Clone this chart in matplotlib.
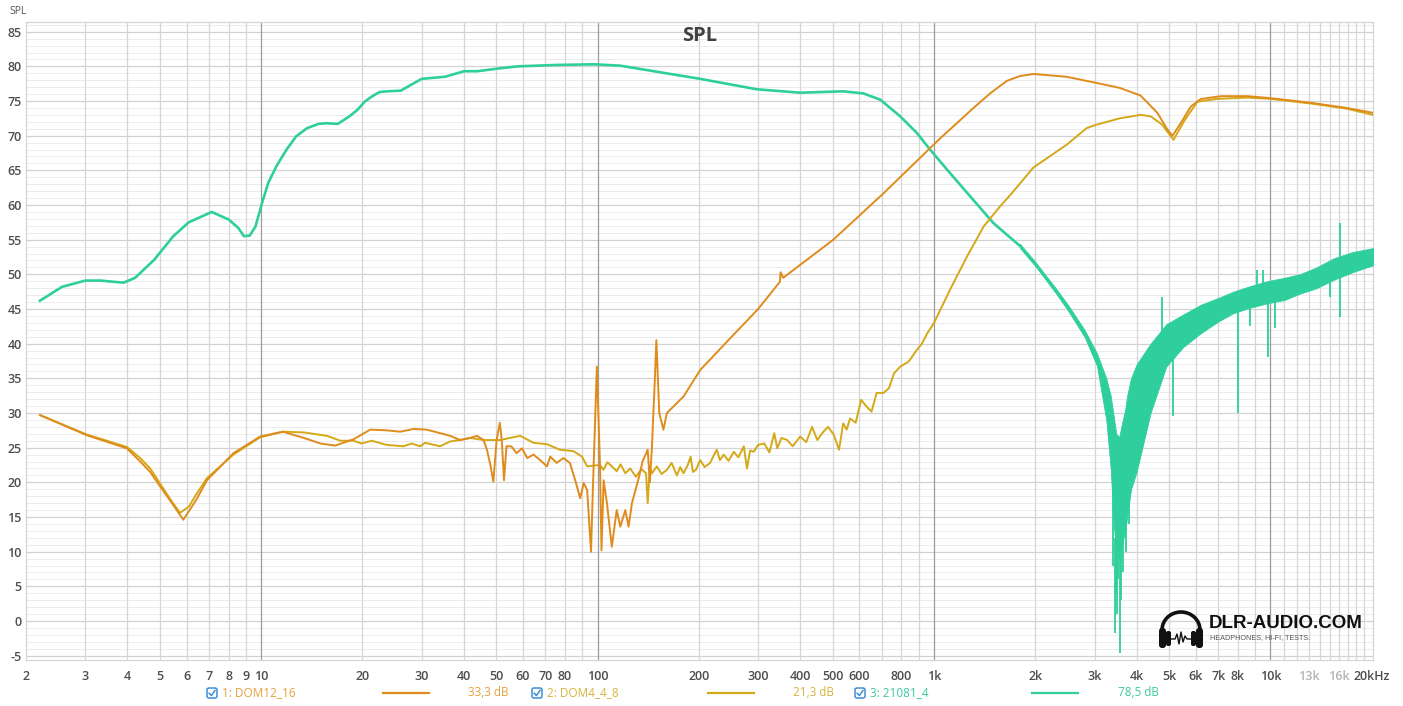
import numpy as np
import matplotlib
matplotlib.use('Agg')
import matplotlib.pyplot as plt
from matplotlib.patches import FancyBboxPatch, Arc

# ---------------- data ----------------
dom12_f = [2.2, 3.03, 3.99, 4.37, 4.68, 5.01, 5.43, 5.87, 6.4, 6.9, 8.27, 9.93, 11.6,
           13.4, 15.0, 16.6, 18.8, 21.1, 23.6, 25.9, 28.4, 31.0, 34.0, 36.5, 39.0,
           41.8, 43.8, 45.8, 46.9, 48.0, 49.0, 50.1, 51.2, 51.9, 52.7, 53.6, 55.4,
           57.4, 59.6, 61.8, 64.5, 67.5, 70.7, 72.3, 75.6, 79.1, 82.7, 85.8, 88.8,
           90.9, 93.1, 95.6, 96.8, 99.5, 101.6, 102.7, 104.2, 106.6, 110.2, 114.0,
           116.8, 120.9, 123.6, 126.5, 132.8, 136.0, 140.9, 143.0, 145.0, 147.8,
           149.5, 152.5, 156.9, 160.7, 180.2, 201.8, 253.7, 300.0, 340.0, 348.0,
           350.0, 356.0, 502.0, 708.0, 1042.0, 1310.0, 1468.0, 1645.0, 1800.0, 1973.0,
           2479.0, 3046.0, 3560.0, 4107.0, 4610.0, 4938.0, 5113.0, 5410.0, 5796.0,
           6210.0, 7130.0, 8560.0, 10080.0, 13400.0, 16840.0, 20170.0]
dom12_db = [29.7, 26.8, 24.9, 23.0, 21.5, 19.4, 17.0, 14.6, 17.4, 20.3, 24.2, 26.6, 27.3,
            26.4, 25.6, 25.3, 26.2, 27.6, 27.5, 27.3, 27.7, 27.6, 27.1, 26.7, 26.1,
            26.4, 26.7, 26.1, 24.7, 22.5, 20.1, 26.1, 28.6, 26.1, 20.3, 25.2, 25.2,
            24.2, 24.9, 23.5, 24.0, 23.2, 22.3, 23.7, 22.8, 23.5, 22.8, 20.3, 17.7,
            19.9, 18.9, 10.0, 18.9, 36.7, 22.8, 10.2, 20.3, 17.0, 10.7, 16.0,
            13.6, 16.0, 13.6, 17.0, 20.8, 23.0, 24.7, 20.0, 25.0, 34.3,
            40.5, 30.0, 27.6, 30.0, 32.4, 36.2, 41.3, 45.0, 48.3, 48.9,
            50.3, 49.5, 55.0, 61.7, 69.6, 74.0, 76.1, 77.9, 78.6, 78.9,
            78.5, 77.6, 76.9, 75.8, 73.3, 70.9, 70.0, 71.8, 74.2,
            75.3, 75.7, 75.7, 75.4, 74.7, 74.0, 73.3]

dom4_f = [2.2, 3.03, 3.99, 4.37, 4.68, 5.01, 5.43, 5.74, 6.1, 6.4, 6.9, 8.27, 9.93, 11.6,
          13.4, 15.7, 17.2, 18.8, 19.9, 21.3, 23.6, 26.5, 28.0, 29.7, 30.7, 34.0, 36.5,
          39.0, 41.8, 45.8, 51.4, 54.8, 58.9, 64.5, 70.7, 77.3, 84.7, 89.9, 93.1,
          101.6, 104.0, 107.0, 110.2, 114.0, 117.0, 120.9, 125.0, 130.0, 135.0, 139.3,
          140.9, 143.0, 145.0, 150.0, 155.0, 160.7, 166.0, 172.0, 176.0, 180.0, 185.0,
          189.0, 192.0, 196.0, 201.8, 208.0, 216.0, 221.0, 226.0, 231.0, 237.0, 245.0,
          254.0, 262.0, 272.0, 278.0, 284.0, 291.0, 300.0, 313.0, 324.0, 335.0, 342.0,
          352.0, 366.0, 380.0, 400.0, 417.0, 434.0, 450.0, 467.0, 484.0, 503.0, 522.0,
          537.0, 550.0, 563.0, 585.0, 607.0, 631.0, 652.0, 675.0, 708.0, 735.0, 760.0,
          794.0, 840.0, 889.0, 920.0, 955.0, 1000.0, 1116.0, 1254.0, 1404.0,
          1571.0, 1689.0, 1973.0, 2479.0, 2842.0, 3046.0, 3560.0, 4107.0, 4400.0,
          4762.0, 5150.0, 5536.0, 6060.0, 6900.0, 8560.0, 10080.0, 13400.0, 16840.0,
          20170.0]
dom4_db = [29.7, 26.9, 25.1, 23.5, 22.0, 19.8, 17.2, 15.6, 16.5, 18.2, 20.6, 24.0, 26.5, 27.3,
           27.2, 26.7, 26.0, 26.0, 25.6, 26.0, 25.4, 25.2, 25.6, 25.2, 25.7, 25.2, 25.9,
           26.1, 26.4, 26.1, 26.1, 26.4, 26.7, 25.7, 25.5, 24.7, 24.5, 23.7, 22.3,
           22.5, 21.8, 22.9, 22.3, 21.6, 22.6, 21.3, 22.0, 20.8, 21.9, 21.3,
           17.0, 22.2, 21.3, 22.3, 21.2, 21.8, 22.8, 21.0, 22.2, 21.3, 22.4,
           23.7, 21.5, 21.8, 23.2, 22.2, 22.8, 23.8, 24.7, 23.2, 24.0, 23.1,
           24.4, 23.6, 25.2, 22.0, 24.6, 24.4, 25.4, 25.6, 24.3, 27.1, 24.9,
           26.4, 26.1, 25.2, 26.6, 25.8, 28.0, 26.1, 27.2, 28.0, 26.9, 24.7,
           28.5, 27.6, 29.2, 28.6, 31.9, 30.9, 30.2, 32.9, 32.9, 33.6, 35.7,
           36.7, 37.4, 39.1, 40.0, 41.5, 43.0, 47.8, 52.6, 56.9,
           59.8, 61.5, 65.4, 68.7, 71.1, 71.6, 72.5, 73.0, 72.8,
           71.6, 69.4, 72.1, 74.9, 75.3, 75.5, 75.3, 74.6, 73.9,
           73.0]

g_f = [2.2, 2.56, 3.0, 3.33, 3.9, 4.22, 4.81, 5.48, 6.09, 7.13, 8.01, 8.55, 8.89, 9.25,
       9.62, 10.06, 10.5, 11.1, 11.9, 12.7, 13.7, 14.8, 15.6, 16.9, 18.3, 19.3, 20.3,
       21.4, 22.5, 23.7, 26.0, 30.0, 35.2, 40.1, 43.9, 50.8,
       57.8, 75.1, 97.7, 116.7, 201.7, 297.0, 400.0, 537.0, 616.0, 692.0, 793.0,
       889.0, 973.0, 1116.0, 1310.0, 1501.0, 1800.0]
g_db = [46.2, 48.2, 49.1, 49.1, 48.8, 49.5, 52.1, 55.5, 57.5, 59.0, 57.9, 56.7, 55.5, 55.6,
        56.9, 60.3, 63.2, 65.6, 68.0, 69.9, 71.1, 71.7, 71.8, 71.7, 72.8, 73.7, 74.9,
        75.7, 76.3, 76.4, 76.5, 78.2, 78.5, 79.3, 79.3, 79.7,
        80.0, 80.2, 80.3, 80.1, 78.2, 76.7, 76.2, 76.4, 76.1, 75.2, 72.8,
        70.4, 68.0, 64.6, 60.7, 57.4, 54.1]

g_band_f = [1800, 2000, 2300, 2500, 2800, 3050, 3250, 3350, 3420, 3480, 3550, 3620, 3700,
            3750, 3850, 4000, 4400, 4900, 5500, 6200, 7000, 7750, 8700, 9750, 11000,
            12200, 13700, 15400, 17500, 19300, 20200]
g_band_hi = [54.4, 51.8, 48.0, 45.6, 42.0, 38.6, 35.0, 32.5, 29.5, 27.0, 26.5, 28.5, 30.5,
             32.5, 35.0, 37.0, 40.0, 42.8, 44.2, 45.6, 46.6, 47.5, 48.3, 49.0, 49.5,
             50.0, 51.0, 52.3, 53.2, 53.6, 53.8]
g_band_lo = [53.8, 51.2, 47.3, 44.8, 41.0, 36.8, 29.0, 22.0, 14.0, 10.0, 9.0, 11.0, 13.0,
             15.0, 19.0, 21.5, 30.0, 36.7, 39.5, 41.5, 43.2, 44.4, 45.2, 45.8, 46.3,
             47.2, 48.0, 49.2, 50.3, 51.0, 51.3]

g_spike_f = [3400, 3440, 3470, 3500, 3530, 3570, 3600, 3650, 3720, 3800, 4470, 4750, 5140,
             8020, 8690, 9100, 9530, 9840, 10320, 15070, 16070]
g_spike_lo = [8.0, -1.7, 4.0, 1.0, 6.0, -4.6, 3.0, 7.0, 10.0, 14.0, 33.3, 40.0, 29.5,
              30.0, 42.5, 46.0, 46.0, 38.1, 42.2, 46.8, 43.9]
g_spike_hi = [20.0, 12.0, 12.0, 12.0, 12.0, 10.0, 12.0, 14.0, 15.0, 20.0, 38.0, 46.8, 40.0,
              46.0, 46.5, 50.6, 50.6, 47.0, 47.5, 51.0, 57.4]

x_ticks = [2, 3, 4, 5, 6, 7, 8, 9, 10, 20, 30, 40, 50, 60, 70, 80, 100, 200, 300, 400,
           500, 600, 800, 1000, 2000, 3000, 4000, 5000, 6000, 7000, 8000, 10000, 13000,
           16000, 20000]
x_tick_labels = ['2', '3', '4', '5', '6', '7', '8', '9', '10', '20', '30', '40', '50', '60',
                 '70', '80', '100', '200', '300', '400', '500', '600', '800', '1k',
                 '2k', '3k', '4k', '5k', '6k', '7k', '8k', '10k', '13k', '16k', '20kHz']
y_ticks = [-5, 0, 5, 10, 15, 20, 25, 30, 35, 40, 45, 50, 55, 60, 65, 70, 75, 80, 85]

legend_names = ['1: DOM12_16', '2: DOM4_4_8', '3: 21081_4']
legend_values = ['33,3 dB', '21,3 dB', '78,5 dB']

# ---------------- style ----------------
C_ORANGE = '#E08C1C'
C_YELLOW = '#D4A918'
C_GREEN = '#2ECF9C'
TXT = '#4d4d4d'
FONT = ['Open Sans', 'DejaVu Sans']

plt.rcParams['font.family'] = FONT

W, H = 1403, 706
fig = plt.figure(figsize=(W / 100, H / 100), dpi=100)
fig.patch.set_facecolor('white')

L, R, T, B = 26, 1373, 22, 660
ax = fig.add_axes([L / W, 1 - B / H, (R - L) / W, (B - T) / H])
ax.set_xscale('log')
ax.set_xlim(2, 20170)
ax.set_ylim(-5.63, 86.4)

# grid
for d in range(-5, 87):
    major = (d % 5 == 0)
    ax.axhline(d, color='#d2d2d2' if major else '#ececec', lw=0.9 if major else 0.7, zorder=0)
vlines = []
for dec in [1, 10, 100, 1000]:
    for m in range(2, 10):
        vlines.append(m * dec)
for m in range(11, 20):
    vlines.append(m * 1000)
for v in vlines:
    if v > 2:
        ax.axvline(v, color='#d6d6d6', lw=0.9, zorder=0)
for v in [10, 100, 1000, 10000]:
    ax.axvline(v, color='#9c9c9c', lw=0.9, zorder=0)

for s in ax.spines.values():
    s.set_color('#d6d6d6')
    s.set_linewidth(0.9)

# curves
ax.plot(g_f, g_db, color=C_GREEN, lw=1.9, zorder=3, solid_joinstyle='round')
ax.fill_between(g_band_f, g_band_lo, g_band_hi, color=C_GREEN, lw=0.6, edgecolor=C_GREEN, zorder=3)
ax.vlines(g_spike_f, g_spike_lo, g_spike_hi, color=C_GREEN, lw=1.3, zorder=3)
ax.plot(dom4_f, dom4_db, color=C_YELLOW, lw=1.4, zorder=4, solid_joinstyle='round')
ax.plot(dom12_f, dom12_db, color=C_ORANGE, lw=1.4, zorder=5, solid_joinstyle='round')

# ticks
ax.set_xticks(x_ticks)
ax.set_xticklabels(x_tick_labels)
ax.xaxis.set_minor_locator(matplotlib.ticker.NullLocator())
ax.set_yticks(y_ticks)
ax.set_yticklabels([str(v) for v in y_ticks])
ax.tick_params(axis='both', length=0, labelsize=9, labelcolor=TXT)
ax.tick_params(axis='x', pad=7)
ax.tick_params(axis='y', pad=3)
for lab in ax.get_xticklabels() + ax.get_yticklabels():
    lab.set_fontweight('semibold')
for lab in ax.get_xticklabels():
    if lab.get_text() in ('13k', '16k'):
        lab.set_color('#b4b4b4')

# title inside plot
ax.text(0.5, 1 - (36 - T) / (B - T), 'SPL', transform=ax.transAxes, ha='center', va='center',
        fontsize=14.5, fontweight='bold', color='#404040', zorder=6)

# ---------------- overlay in pixel coordinates ----------------
ov = fig.add_axes([0, 0, 1, 1])
ov.set_xlim(0, W)
ov.set_ylim(H, 0)
ov.axis('off')

ov.text(9, 12, 'SPL', fontsize=7.5, color='#555555', ha='left', va='center')

# legend
leg_x = [(212, 222, 383, 429, 468), (537, 547, 708, 754, 793), (860, 870, 1032, 1078, 1118)]
leg_line_colors = [C_ORANGE, C_YELLOW, C_GREEN]
leg_txt_colors = ['#E3A23A', '#D6B43C', '#3CC9A0']
ly = 693
for (cbx, tx, l0, l1, vx), name, val, lc, tc in zip(leg_x, legend_names, legend_values,
                                                    leg_line_colors, leg_txt_colors):
    box = FancyBboxPatch((cbx - 5, ly - 5), 10, 10, boxstyle='round,pad=0,rounding_size=2',
                         fc='white', ec='#3d8fd6', lw=1.1)
    ov.add_patch(box)
    ov.plot([cbx - 2.8, cbx - 0.6, cbx + 3], [ly + 0.2, ly + 2.6, ly - 2.6], color='#3d8fd6', lw=1.1)
    ov.text(tx, ly, name, fontsize=8.5, color=tc, ha='left', va='center')
    ov.plot([l0, l1], [ly, ly], color=lc, lw=1.6)
    ov.text(vx, ly, val, fontsize=8.5, color=tc, ha='left', va='center')

# logo: headphones icon
cx, cy = 1181, 630
ov.add_patch(Arc((cx, cy), 38, 36, theta1=180, theta2=360, color='#111111', lw=2.6))
for ex in (1162.5, 1199.5):
    ov.add_patch(FancyBboxPatch((ex - 3.5, 628), 7, 20, boxstyle='round,pad=0,rounding_size=3',
                                fc='#111111', ec='none'))
for ex in (1168.5, 1193.5):
    ov.add_patch(FancyBboxPatch((ex - 2.5, 631), 5, 15, boxstyle='round,pad=0,rounding_size=2',
                                fc='#111111', ec='none'))
wx = [1171, 1175, 1177, 1179, 1181, 1183, 1185, 1187, 1191]
wy = [639, 639, 634, 644, 632, 642, 636, 639, 639]
ov.plot(wx, wy, color='#111111', lw=1.0)

ov.text(1209, 624, 'DLR-AUDIO.COM', fontsize=13.5, fontweight='bold', color='#111111',
        ha='left', va='center', family=['Liberation Sans', 'DejaVu Sans'])
ov.text(1210, 638, 'HEADPHONES, HI-FI, TESTS.', fontsize=5.2, color='#555555',
        ha='left', va='center', family=['Liberation Sans', 'DejaVu Sans'])

fig.savefig('out.png', dpi=100, facecolor='white')
